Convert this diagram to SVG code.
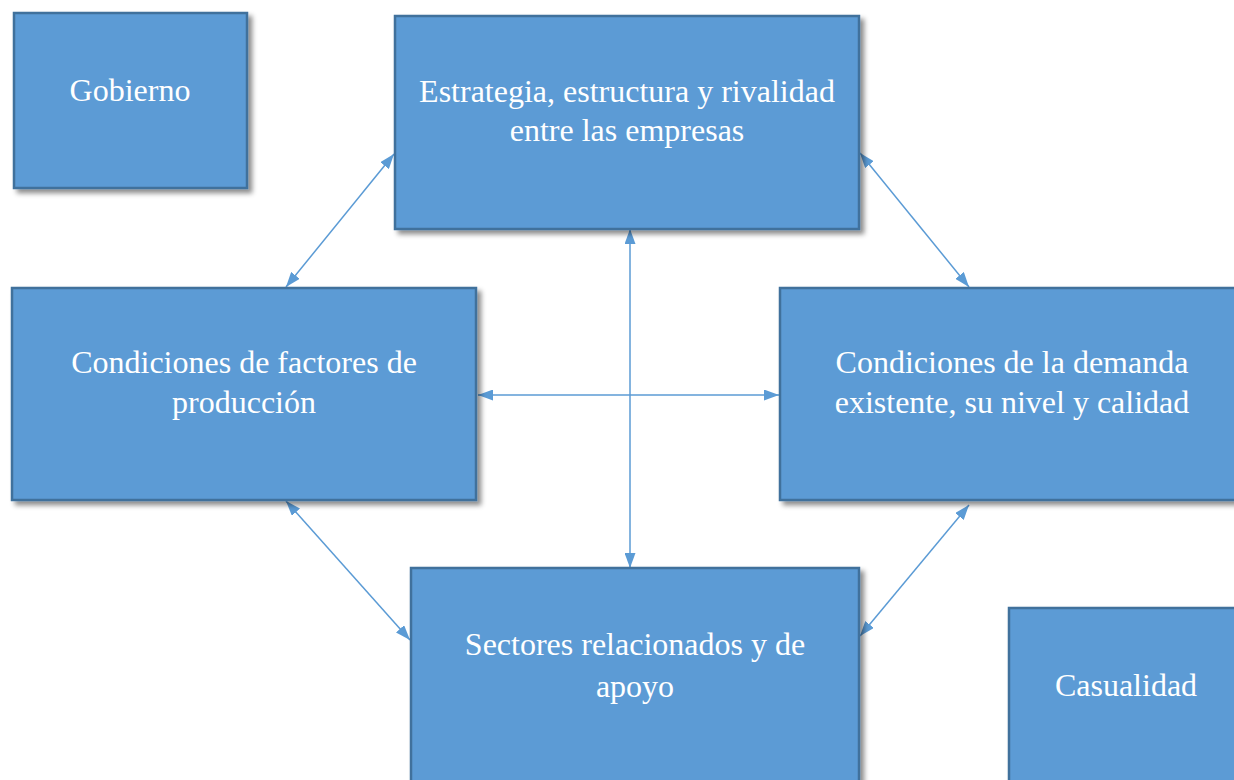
<svg xmlns="http://www.w3.org/2000/svg" width="1234" height="780" viewBox="0 0 1234 780">
<defs>
<filter id="sh" x="-10%" y="-10%" width="130%" height="130%">
<feDropShadow dx="4" dy="4" stdDeviation="2.5" flood-color="#000" flood-opacity="0.45"/>
</filter>
<marker id="ah" viewBox="0 0 15 11" refX="15" refY="5.5" markerWidth="15" markerHeight="11" markerUnits="userSpaceOnUse" orient="auto-start-reverse">
<path d="M0,0 L15,5.5 L0,11 Z" fill="#5B9BD5"/>
</marker>
<style>
.box{fill:#5B9BD5;stroke:#41719C;stroke-width:2.5;filter:url(#sh)}
.t{font-family:"Liberation Serif","Times New Roman",serif;font-size:32px;fill:#fff;text-anchor:middle}
.c{stroke:#5B9BD5;stroke-width:1.5;fill:none;marker-start:url(#ah);marker-end:url(#ah)}
</style>
</defs>
<rect width="1234" height="780" fill="#fff"/>
<g id="connectors">
<line class="c" x1="394" y1="154" x2="286" y2="287"/>
<line class="c" x1="860" y1="153" x2="969" y2="287"/>
<line class="c" x1="286" y1="501" x2="410" y2="640"/>
<line class="c" x1="969" y1="505" x2="860" y2="636"/>
<line class="c" x1="630" y1="229" x2="630" y2="568"/>
<line class="c" x1="478" y1="395" x2="779" y2="395"/>
</g>
<g id="gobierno">
<rect class="box" x="14" y="13" width="233" height="175"/>
<text class="t" x="130" y="101">Gobierno</text>
</g>
<g id="estrategia">
<rect class="box" x="395" y="16" width="464" height="213"/>
<text class="t" x="627" y="102">Estrategia, estructura y rivalidad</text>
<text class="t" x="627" y="141">entre las empresas</text>
</g>
<g id="factores">
<rect class="box" x="12" y="288" width="464" height="212"/>
<text class="t" x="244" y="373">Condiciones de factores de</text>
<text class="t" x="244" y="413">producción</text>
</g>
<g id="demanda">
<rect class="box" x="780" y="288" width="470" height="212"/>
<text class="t" x="1012" y="373">Condiciones de la demanda</text>
<text class="t" x="1012" y="413">existente, su nivel y calidad</text>
</g>
<g id="sectores">
<rect class="box" x="411" y="568" width="448" height="230"/>
<text class="t" x="635" y="655">Sectores relacionados y de</text>
<text class="t" x="635" y="697">apoyo</text>
</g>
<g id="casualidad">
<rect class="box" x="1009" y="608" width="240" height="190"/>
<text class="t" x="1126" y="696">Casualidad</text>
</g>
</svg>
